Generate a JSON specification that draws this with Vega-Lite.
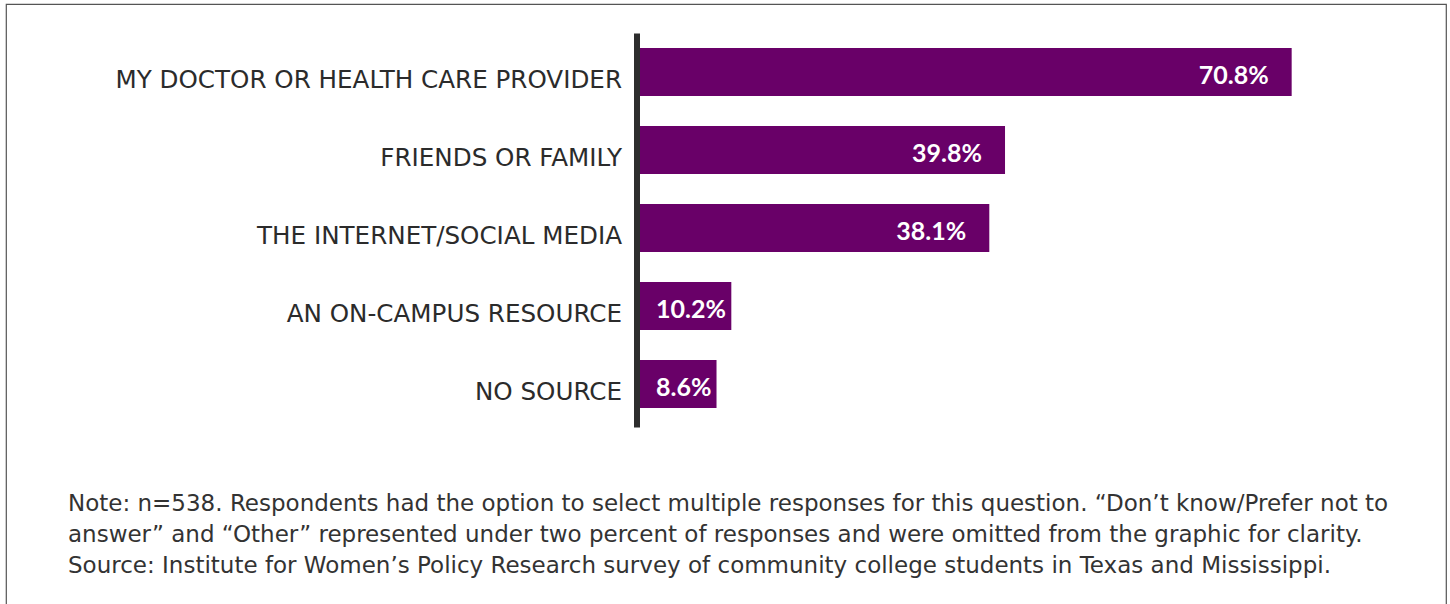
{
  "$schema": "https://vega.github.io/schema/vega-lite/v6.json",
  "width": 1440,
  "height": 602,
  "autosize": {"type": "none"},
  "padding": {"left": 6, "top": 4, "right": 4, "bottom": -2},
  "background": "white",
  "config": {"view": {"stroke": "#555555", "strokeWidth": 1.2}, "font": "Lato"},
  "title": {
    "text": [
      "Note: n=538. Respondents had the option to select multiple responses for this question. “Don’t know/Prefer not to",
      "answer” and “Other” represented under two percent of responses and were omitted from the graphic for clarity.",
      "Source: Institute for Women’s Policy Research survey of community college students in Texas and Mississippi."
    ],
    "orient": "bottom",
    "anchor": "start",
    "frame": "group",
    "offset": -113,
    "dx": 62,
    "fontSize": 23,
    "fontWeight": "normal",
    "font": "DejaVu Sans",
    "color": "#333333",
    "lineHeight": 31.2,
    "baseline": "top"
  },
  "data": {
    "values": [
      {"source": "MY DOCTOR OR HEALTH CARE PROVIDER", "share": 0.708},
      {"source": "FRIENDS OR FAMILY", "share": 0.398},
      {"source": "THE INTERNET/SOCIAL MEDIA", "share": 0.381},
      {"source": "AN ON-CAMPUS RESOURCE", "share": 0.102},
      {"source": "NO SOURCE", "share": 0.086}
    ]
  },
  "encoding": {
    "y": {
      "field": "source",
      "type": "nominal",
      "sort": null,
      "scale": {"range": [29, 423], "paddingInner": 0.385, "paddingOuter": 0.218, "align": 0.44},
      "axis": {
        "title": null,
        "orient": "left",
        "offset": -630.5,
        "domainColor": "#2d2d2d",
        "domainWidth": 6,
        "ticks": false,
        "tickSize": 0,
        "labelPadding": 15,
        "labelFont": "DejaVu Sans",
        "labelFontSize": 24.6,
        "labelColor": "#2b2b2b",
        "labelOffset": 9,
        "labelLimit": 0,
        "grid": false,
        "zindex": 1
      }
    }
  },
  "layer": [
    {
      "mark": {"type": "bar", "color": "#690068"},
      "encoding": {
        "x": {
          "field": "share",
          "type": "quantitative",
          "scale": {"domain": [-0.6824, 0.8749], "nice": false, "zero": false},
          "axis": null
        }
      }
    },
    {
      "transform": [{"filter": "datum.share > 0.2"}],
      "mark": {"type": "text", "align": "center", "baseline": "middle", "dx": -58, "dy": 4, "color": "white", "fontSize": 25, "fontWeight": "bold", "font": "Lato"},
      "encoding": {
        "x": {"field": "share", "type": "quantitative"},
        "text": {"field": "share", "type": "quantitative", "format": ".1%"}
      }
    },
    {
      "transform": [{"filter": "datum.share <= 0.2"}],
      "mark": {"type": "text", "align": "left", "baseline": "middle", "dx": 19, "dy": 4, "color": "white", "fontSize": 25, "fontWeight": "bold", "font": "Lato"},
      "encoding": {
        "x": {"datum": 0, "type": "quantitative"},
        "text": {"field": "share", "type": "quantitative", "format": ".1%"}
      }
    }
  ]
}
